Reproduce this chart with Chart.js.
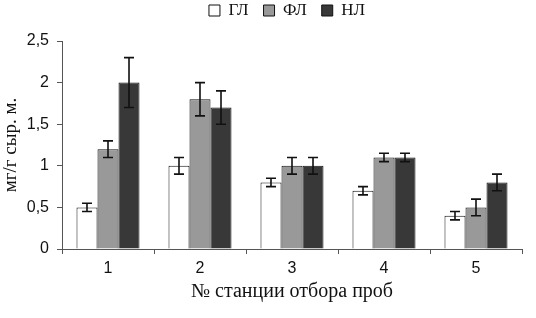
<!DOCTYPE html>
<html>
<head>
<meta charset="utf-8">
<script src="https://cdn.jsdelivr.net/npm/chart.js@4"></script>
<style>
    html, body { margin: 0; padding: 0; background: #fff; }
    #wrap { width: 536px; height: 318px; }
</style>
</head>
<body>
<div id="wrap"><canvas id="chart"></canvas></div>
<script>
const stations = ["1", "2", "3", "4", "5"];
const seriesNames = ["ГЛ", "ФЛ", "НЛ"];
const glValues = [0.5, 1.0, 0.8, 0.7, 0.4];
const glErrors = [0.05, 0.1, 0.05, 0.05, 0.05];
const flValues = [1.2, 1.8, 1.0, 1.1, 0.5];
const flErrors = [0.1, 0.2, 0.1, 0.05, 0.1];
const nlValues = [2.0, 1.7, 1.0, 1.1, 0.8];
const nlErrors = [0.3, 0.2, 0.1, 0.05, 0.1];
const yTicks = [0, 0.5, 1, 1.5, 2, 2.5];

const serif = "'Liberation Serif', 'DejaVu Serif', serif";
const sans = "'Liberation Sans', Arial, sans-serif";

// error bars drawn through the y scale
const errorBars = {
    id: "errorBars",
    afterDatasetsDraw(chart) {
        const ctx = chart.ctx;
        const y = chart.scales.y;
        ctx.save();
        ctx.strokeStyle = "#111";
        ctx.lineWidth = 1.6;
        chart.data.datasets.forEach((ds, i) => {
            const meta = chart.getDatasetMeta(i);
            meta.data.forEach((bar, j) => {
                const v = ds.data[j];
                const e = ds.errors[j];
                const top = y.getPixelForValue(v + e);
                const bot = y.getPixelForValue(v - e);
                ctx.beginPath();
                ctx.moveTo(bar.x, top);
                ctx.lineTo(bar.x, bot);
                ctx.moveTo(bar.x - 5, top);
                ctx.lineTo(bar.x + 5, top);
                ctx.moveTo(bar.x - 5, bot);
                ctx.lineTo(bar.x + 5, bot);
                ctx.stroke();
            });
        });
        ctx.restore();
    },
};

// extra room under the legend, and move it a bit to the right
const legendGap = {
    id: "legendGap",
    beforeInit(chart) {
        const fit = chart.legend.fit;
        chart.legend.fit = function () {
            fit.bind(this)();
            this.height += 12;
        };
    },
    afterLayout(chart) {
        chart.legend.left += 26;
        chart.legend.right += 26;
    },
};

new Chart(document.getElementById("chart"), {
    type: "bar",
    data: {
        labels: stations,
        datasets: [
            { label: seriesNames[0], data: glValues, errors: glErrors, backgroundColor: "#ffffff" },
            { label: seriesNames[1], data: flValues, errors: flErrors, backgroundColor: "#999999" },
            { label: seriesNames[2], data: nlValues, errors: nlErrors, backgroundColor: "#383838" },
        ].map((d) => ({ ...d, borderColor: "#111", borderWidth: 1, barPercentage: 1, categoryPercentage: 0.685 })),
    },
    plugins: [errorBars, legendGap],
    options: {
        responsive: true,
        maintainAspectRatio: false,
        animation: false,
        layout: { padding: { top: -13, right: 14, bottom: 0, left: 0 } },
        plugins: {
            tooltip: { enabled: false },
            legend: {
                position: "top",
                labels: {
                    font: { family: serif, size: 17 },
                    color: "#111",
                    boxWidth: 11,
                    boxHeight: 11,
                    padding: 15,
                },
            },
        },
        scales: {
            x: {
                grid: { drawOnChartArea: false, drawTicks: true, tickLength: 5, color: "#555" },
                border: { color: "#555" },
                ticks: { font: { family: sans, size: 16 }, color: "#111", padding: 5 },
                title: {
                    display: true,
                    text: "№ станции отбора проб",
                    font: { family: serif, size: 20 },
                    color: "#111",
                    padding: { top: 0, bottom: 14 },
                },
                afterFit(scale) { scale.height = 69; },
            },
            y: {
                min: 0,
                max: 2.5,
                grid: { drawOnChartArea: false, drawTicks: true, tickLength: 5, color: "#555" },
                border: { color: "#555" },
                afterBuildTicks(scale) { scale.ticks = yTicks.map((v) => ({ value: v })); },
                ticks: {
                    font: { family: sans, size: 16 },
                    color: "#111",
                    padding: 8,
                    callback: (v) => String(v).replace(".", ","),
                },
                title: {
                    display: true,
                    text: "мг/г сыр. м.",
                    font: { family: serif, size: 19 },
                    color: "#111",
                    padding: { top: 0, bottom: 0 },
                },
                afterFit(scale) { scale.width = 62; },
            },
        },
    },
});
</script>
</body>
</html>
